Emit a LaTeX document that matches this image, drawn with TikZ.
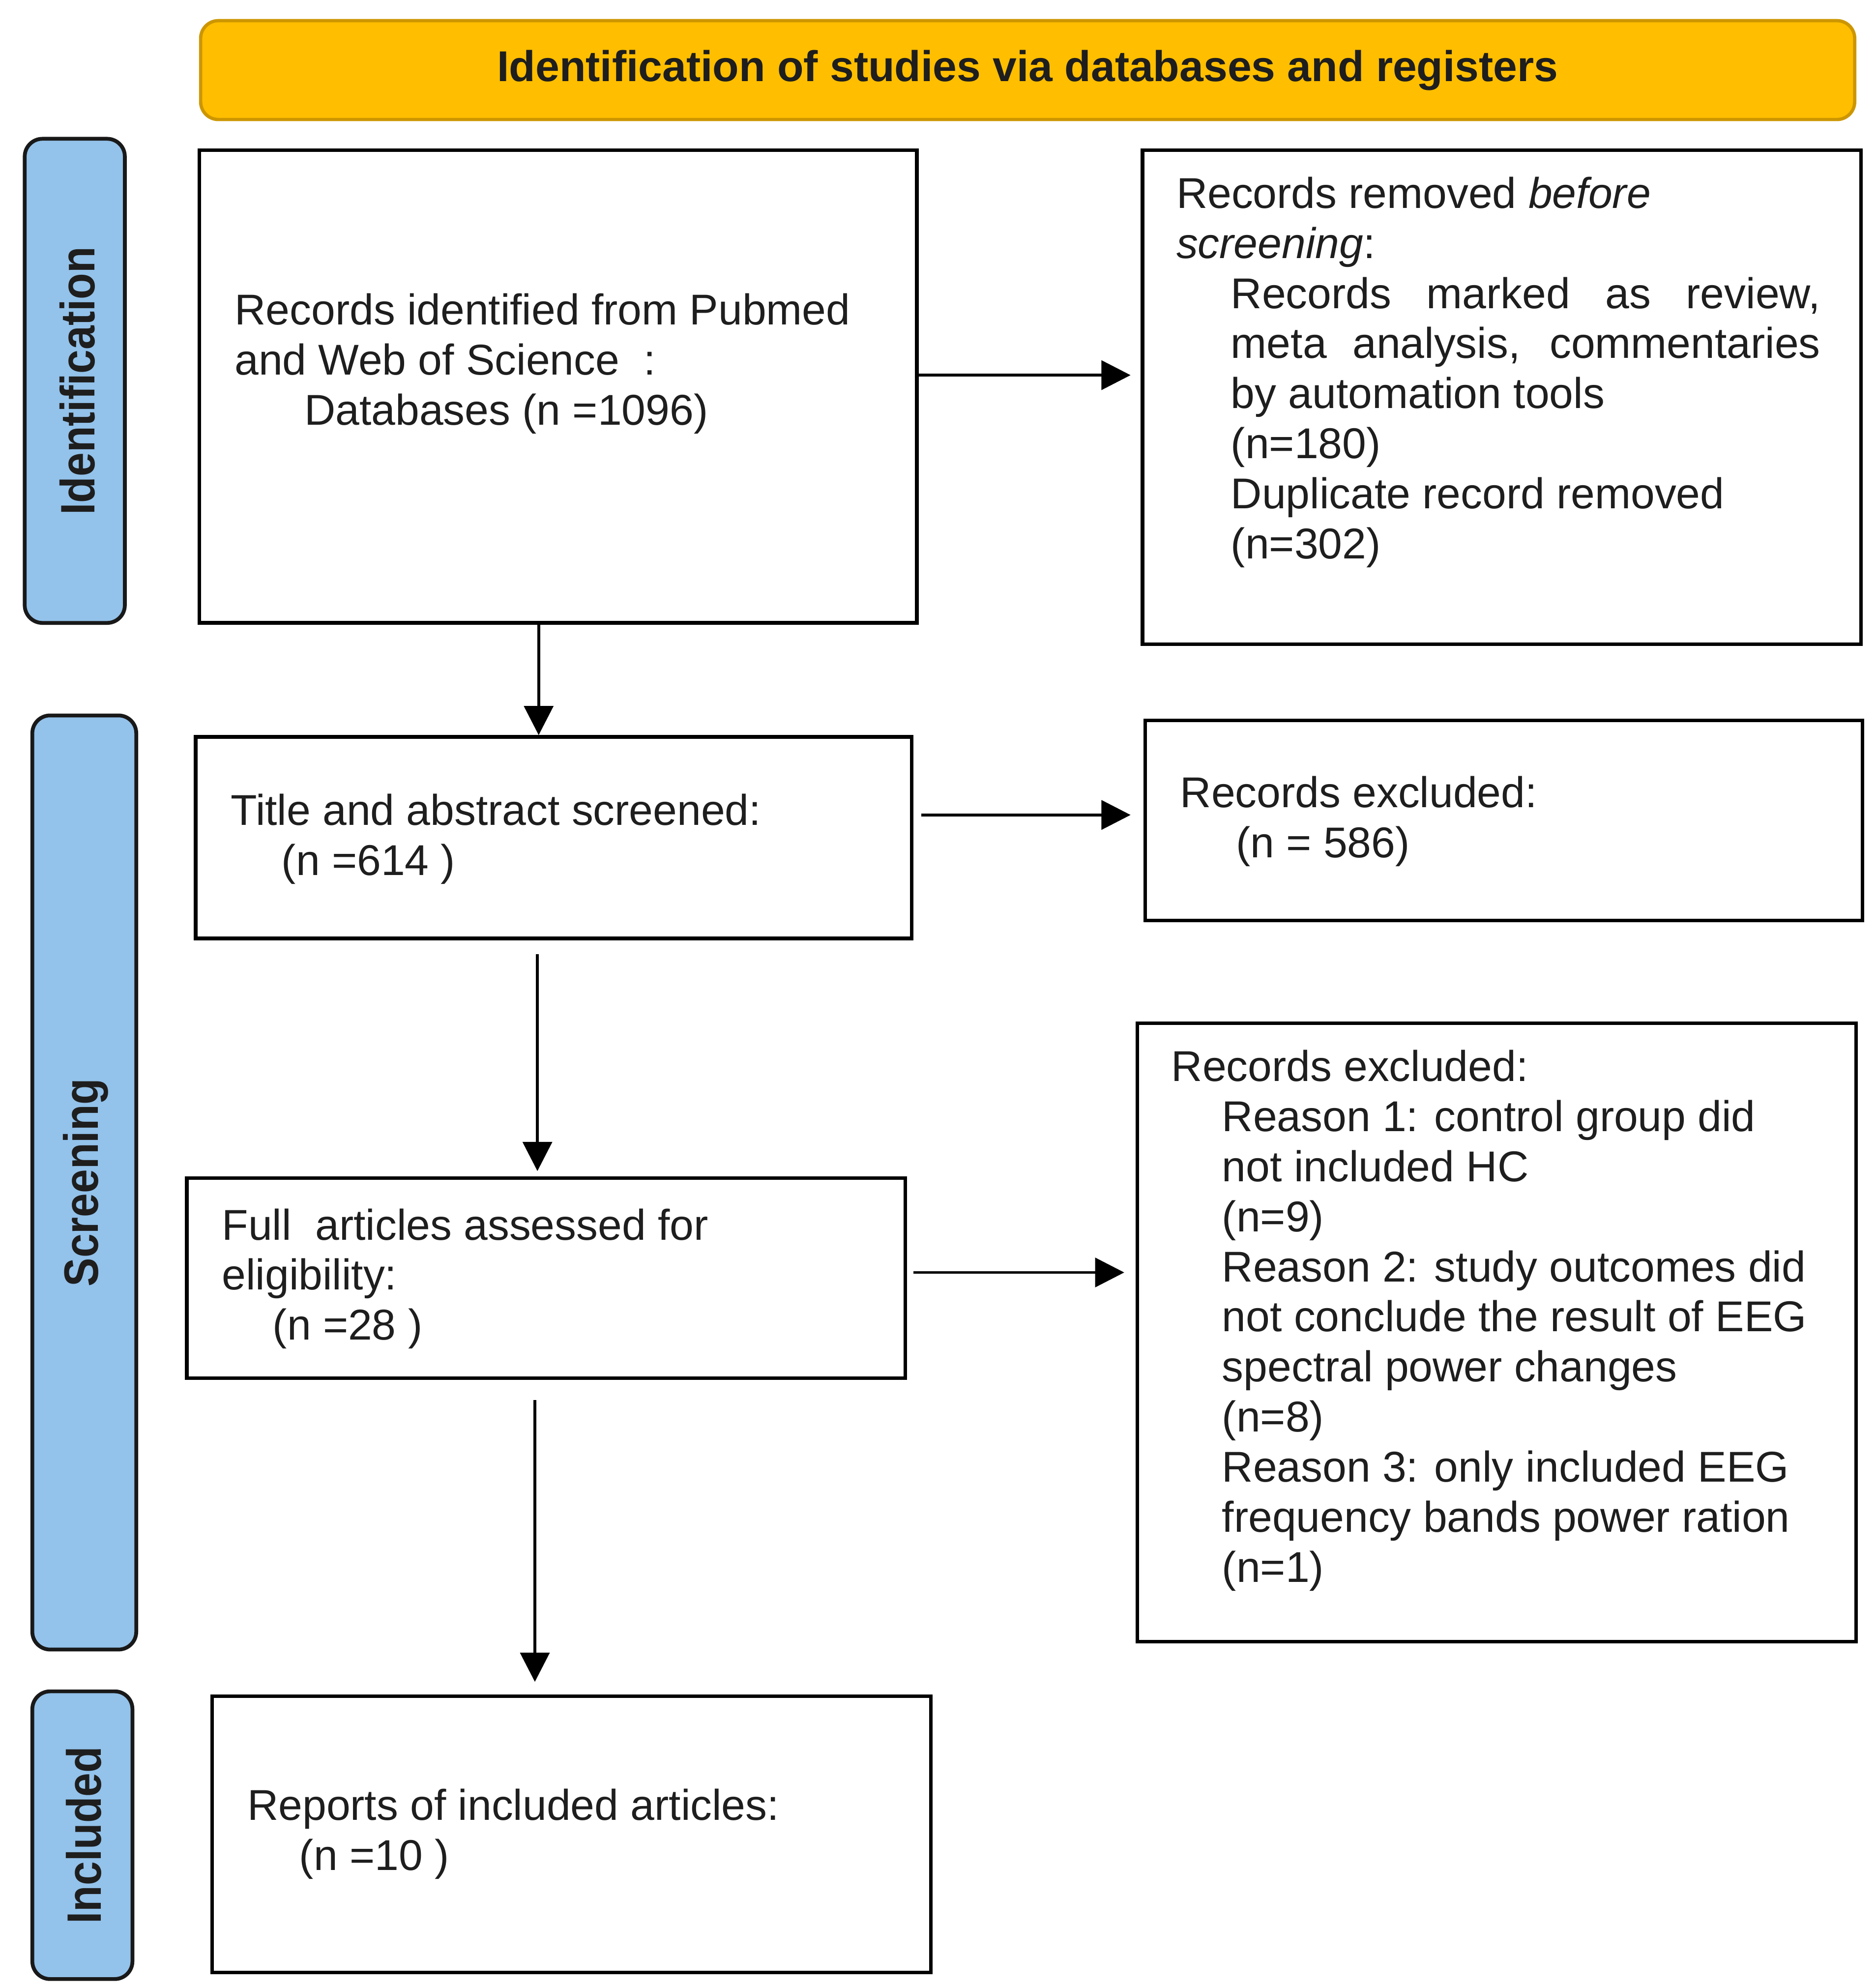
\documentclass[tikz,border=0pt]{standalone}
\usepackage{fontspec}
\setmainfont{Liberation Sans}
\usetikzlibrary{arrows.meta,calc}
\definecolor{hdrfill}{HTML}{FFBE00}
\definecolor{hdrline}{HTML}{CC9600}
\definecolor{barfill}{HTML}{93C2EA}
\definecolor{txtcol}{HTML}{1E1E1E}
\newcommand\mystrut{\rule{0pt}{28pt}}
\newcommand\tallbox[1]{\scalebox{1}[1.12]{#1}}
\begin{document}
\begin{tikzpicture}[x=1pt,y=-1pt,
  box/.style={draw=black, line width=2.8pt, fill=white, inner sep=0pt, anchor=north west},
  hdr/.style={draw=hdrline, line width=2.6pt, fill=hdrfill, rounded corners=14pt, inner sep=0pt, anchor=north west,
    text=txtcol, font=\fontsize{34}{40}\selectfont\bfseries},
  bar/.style={draw=black!90, line width=3pt, fill=barfill, rounded corners=14pt, inner sep=0pt, anchor=north west},
  sidelbl/.style={rotate=90, inner sep=0pt, text=txtcol, font=\fontsize{34}{40}\selectfont\bfseries},
  txt/.style={anchor=north west, inner sep=0pt, align=left, text=txtcol, font=\fontsize{34}{39.5}\selectfont},
  arr/.style={line width=2.3pt, -{Triangle[length=23pt,width=23pt]}}]
\useasboundingbox[fill=white] (0,0) rectangle (1480,1567);

% header
\node[hdr, minimum width=1305pt, minimum height=78pt] (hd) at (157,15) {Identification of studies via databases and registers};

% side bars
\node[bar, minimum width=79pt, minimum height=382pt] (s1) at (18,108) {};
\node[bar, minimum width=82pt, minimum height=737pt] (s2) at (24,563) {};
\node[bar, minimum width=79pt, minimum height=227pt] (s3) at (24,1333) {};
\node[sidelbl] (l1) at ($(s1.center)+(2,0)$) {\tallbox{Identification}};
\node[sidelbl] (l2) at ($(s2.center)+(1,0)$) {\tallbox{Screening}};
\node[sidelbl] (l3) at ($(s3.center)+(1,0)$) {\tallbox{Included}};

% boxes
\node[box, minimum width=566pt, minimum height=373pt] (b1) at (156,117) {};
\node[box, minimum width=567pt, minimum height=390pt] (b2) at (900,117) {};
\node[box, minimum width=565pt, minimum height=159pt] (b3) at (153,580) {};
\node[box, minimum width=566pt, minimum height=158pt] (b4) at (902,567) {};
\node[box, minimum width=567pt, minimum height=158pt] (b5) at (146,928) {};
\node[box, minimum width=567pt, minimum height=488pt] (b6) at (896,806) {};
\node[box, minimum width=567pt, minimum height=218pt] (b7) at (166,1337) {};

% texts
\node[txt] (t1) at (185,228) {\mystrut Records identified from Pubmed\\
and Web of Science\ \ :\\
\hspace*{55pt}Databases (n =1096)};

\node[txt] (t2) at (928,136) {\mystrut Records removed \textit{before}\\
\textit{screening}:\\
\hspace*{43pt}\makebox[465pt][s]{Records marked as review,}\\
\hspace*{43pt}\makebox[465pt][s]{meta analysis, commentaries}\\
\hspace*{43pt}by automation tools\\
\hspace*{43pt}(n=180)\\
\hspace*{43pt}Duplicate record removed\\
\hspace*{43pt}(n=302)};

\node[txt] (t3) at (182,623) {\mystrut Title and abstract screened:\\
\hspace*{40pt}(n =614 )};

\node[txt] (t4) at (931,609) {\mystrut Records excluded:\\
\hspace*{44pt}(n = 586)};

\node[txt] (t5) at (175,950) {\mystrut Full\ \ articles assessed for\\
eligibility:\\
\hspace*{40pt}(n =28 )};

\node[txt] (t6) at (924,825) {\mystrut Records excluded:\\
\hspace*{40pt}Reason 1: control group did\\
\hspace*{40pt}not included HC\\
\hspace*{40pt}(n=9)\\
\hspace*{40pt}Reason 2: study outcomes did\\
\hspace*{40pt}not conclude the result of EEG\\
\hspace*{40pt}spectral power changes\\
\hspace*{40pt}(n=8)\\
\hspace*{40pt}Reason 3: only included EEG\\
\hspace*{40pt}frequency bands power ration\\
\hspace*{40pt}(n=1)};

\node[txt] (t7) at (195,1408) {\mystrut Reports of included articles:\\
\hspace*{41pt}(n =10 )};

% arrows
\draw[arr] (b1.east |- 0,296) -- ($(b2.west |- 0,296)+(-8,0)$);
\draw[arr] (b1.south -| 425,0) -- (b3.north -| 425,0);
\draw[arr] ($(b3.east |- 0,643)+(6,0)$) -- ($(b4.west |- 0,643)+(-10,0)$);
\draw[arr] ($(b3.south -| 424,0)+(0,11)$) -- ($(b5.north -| 424,0)+(0,-4)$);
\draw[arr] ($(b5.east |- 0,1004)+(5,0)$) -- ($(b6.west |- 0,1004)+(-9,0)$);
\draw[arr] ($(b5.south -| 422,0)+(0,16)$) -- ($(b7.north -| 422,0)+(0,-10)$);
\end{tikzpicture}
\end{document}
